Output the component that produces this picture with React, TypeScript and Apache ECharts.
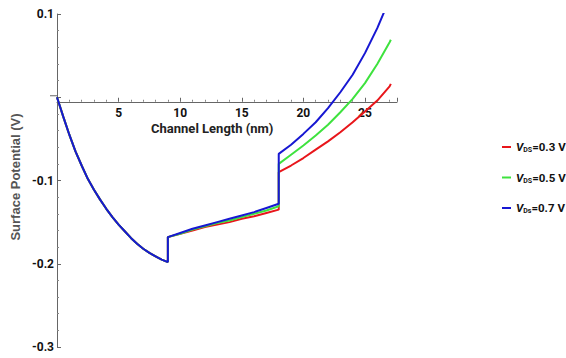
import { useEffect, useRef } from 'react';
import * as echarts from 'echarts';

// Segment 1 (source region) – identical for all V_DS
const seg1X = [0, 0.5, 1, 1.5, 2, 2.5, 3, 3.5, 4, 4.5, 5, 5.5, 6, 6.5, 7, 7.5, 8, 8.5, 9];
const seg1Y = [0, -0.023, -0.045, -0.065, -0.082, -0.098, -0.111, -0.123, -0.134, -0.144, -0.153, -0.161, -0.169, -0.176, -0.182, -0.187, -0.191, -0.195, -0.198];

// Segment 2 (middle region)
const seg2X = [9, 10, 11, 12, 13, 14, 15, 16, 17, 18];
const seg2Red = [-0.168, -0.164, -0.16, -0.156, -0.153, -0.15, -0.146, -0.143, -0.139, -0.135];
const seg2Green = [-0.168, -0.164, -0.159, -0.155, -0.151, -0.148, -0.144, -0.14, -0.136, -0.131];
const seg2Blue = [-0.168, -0.163, -0.158, -0.154, -0.15, -0.146, -0.142, -0.138, -0.133, -0.128];

// Segment 3 (drain region)
const seg3X = [18, 19, 20, 21, 22, 23, 24, 25, 26, 27, 27.1];
const seg3Red = [-0.09, -0.082, -0.073, -0.063, -0.053, -0.042, -0.03, -0.017, -0.004, 0.013, 0.016];
const seg3Green = [-0.08, -0.069, -0.058, -0.046, -0.033, -0.018, -0.002, 0.017, 0.04, 0.066, 0.069];
const seg3Blue = [-0.068, -0.057, -0.044, -0.03, -0.013, 0.006, 0.027, 0.053, 0.083, 0.118, 0.122];

const seriesNames = ['VDS=0.3 V', 'VDS=0.5 V', 'VDs=0.7 V'];
const legendRich = ['{i|V}{s|DS}{t|=0.3 V}', '{i|V}{s|DS}{t|=0.5 V}', '{i|V}{s|Ds}{t|=0.7 V}'];
const colors = ['#e8161b', '#3ee23e', '#1717d2'];

const xTickLabels = [5, 10, 15, 20, 25];
const yTickLabels = [0.1, -0.1, -0.2, -0.3];

const FONT = 'Roboto, "Liberation Sans", sans-serif';

function buildCurve(seg2: number[], seg3: number[]): number[][] {
  const pts: number[][] = [];
  seg1X.forEach((x, i) => pts.push([x, seg1Y[i]]));
  seg2X.forEach((x, i) => pts.push([x, seg2[i]]));
  seg3X.forEach((x, i) => pts.push([x, seg3[i]]));
  return pts;
}

export default function App() {
  const ref = useRef<HTMLDivElement>(null);
  useEffect(() => {
    if (!ref.current) return;
    const chart = echarts.init(ref.current, undefined, { renderer: 'svg' });
    const curves = [buildCurve(seg2Red, seg3Red), buildCurve(seg2Green, seg3Green), buildCurve(seg2Blue, seg3Blue)];
    chart.setOption({
      animation: false,
      grid: { left: 57, right: 169, top: 14, bottom: 11, containLabel: false },
      legend: {
        orient: 'vertical',
        left: 497,
        top: 136,
        itemGap: 18,
        itemWidth: 9,
        itemHeight: 2,
        icon: 'rect',
        data: seriesNames,
        formatter: (name: string) => legendRich[seriesNames.indexOf(name)],
        textStyle: {
          rich: {
            i: { fontStyle: 'italic', fontWeight: 'bold', fontSize: 11.5, fontFamily: FONT, color: '#111' },
            s: { fontWeight: 'bold', fontSize: 7, fontFamily: FONT, color: '#111', verticalAlign: 'bottom', padding: [6, 0, 0, 0] },
            t: { fontWeight: 'bold', fontSize: 11.5, fontFamily: FONT, color: '#111' },
          },
        },
      },
      xAxis: {
        type: 'value',
        min: 0,
        max: 27.6,
        interval: 5,
        axisLine: { onZero: false, lineStyle: { color: '#666', width: 1 } },
        axisTick: { show: true, inside: true, length: 4, lineStyle: { color: '#666' } },
        minorTick: { show: true, splitNumber: 5, length: 2, lineStyle: { color: '#888' } },
        splitLine: { show: false },
        axisLabel: {
          showMaxLabel: false,
          margin: 5,
          fontFamily: FONT,
          fontWeight: 'bold',
          fontSize: 12,
          color: '#111',
          formatter: (v: number) => (xTickLabels.indexOf(Math.round(v * 100) / 100) >= 0 ? String(v) : ''),
        },
      },
      yAxis: {
        type: 'value',
        min: -0.3,
        max: 0.1,
        interval: 0.1,
        axisLine: { show: true, onZero: false, lineStyle: { color: '#666', width: 1 } },
        axisTick: { show: true, inside: true, length: 4, lineStyle: { color: '#666' } },
        minorTick: { show: true, splitNumber: 5, length: 2, lineStyle: { color: '#888' } },
        splitLine: { show: false },
        axisLabel: {
          margin: 3,
          fontFamily: FONT,
          fontWeight: 'bold',
          fontSize: 12,
          color: '#111',
          formatter: (v: number) => {
            const r = Math.round(v * 10) / 10;
            return yTickLabels.indexOf(r) >= 0 ? String(r) : '';
          },
        },
      },
      series: seriesNames.map((name, i) => ({
        name,
        type: 'line',
        data: curves[i],
        showSymbol: false,
        symbol: 'none',
        clip: true,
        smooth: false,
        lineStyle: { color: colors[i], width: 2 },
        itemStyle: { color: colors[i] },
        z: 2 + i,
      })),
    });
    const origin = chart.convertToPixel({ gridIndex: 0 }, [0, 0]) as number[];
    const bottom = chart.convertToPixel({ gridIndex: 0 }, [0, -0.3]) as number[];
    const labelPos = chart.convertToPixel({ gridIndex: 0 }, [12.6, 0]) as number[];
    chart.setOption({
      xAxis: { offset: -(bottom[1] - origin[1]) },
      graphic: [
        {
          type: 'line',
          shape: { x1: origin[0] - 7, y1: origin[1], x2: origin[0], y2: origin[1] },
          style: { stroke: '#666', lineWidth: 1 },
        },
        {
          type: 'text',
          x: labelPos[0],
          y: labelPos[1] + 33,
          style: {
            text: 'Channel Length (nm)',
            fontFamily: FONT,
            fontSize: 13,
            fontWeight: 'bold',
            fill: '#222',
            align: 'center',
            verticalAlign: 'middle',
          },
        },
        {
          type: 'text',
          x: 15,
          y: 177,
          rotation: Math.PI / 2,
          style: {
            text: 'Surface Potential (V)',
            fontFamily: '"Liberation Sans", Arial, sans-serif',
            fontSize: 13,
            fontWeight: 'bold',
            fill: '#555',
            align: 'center',
            verticalAlign: 'middle',
          },
        },
      ],
    });
    return () => chart.dispose();
  }, []);
  return <div ref={ref} style={{ width: 566, height: 358, position: 'absolute', left: 0, top: 0 }} />;
}
